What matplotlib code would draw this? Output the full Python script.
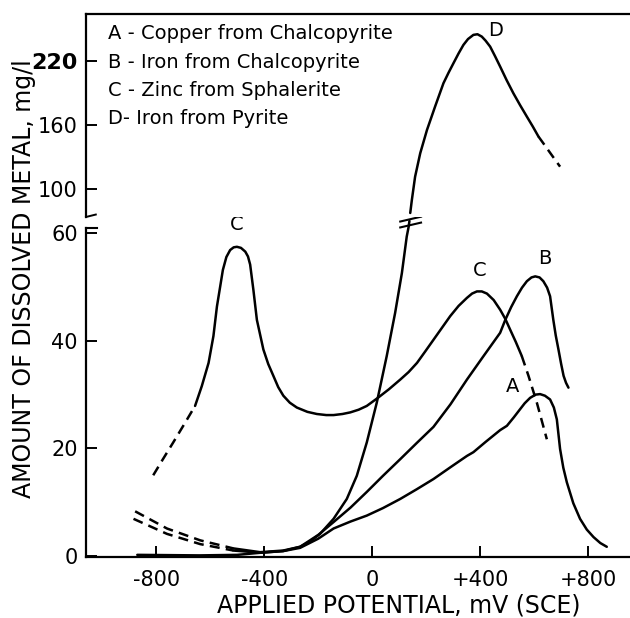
import matplotlib
matplotlib.use("Agg")
import matplotlib.pyplot as plt
from matplotlib.lines import Line2D

plt.rcParams['font.family'] = ['DejaVu Sans']

# --- data (mV vs SCE, mg/l) ---
# A - copper from chalcopyrite
a_dash_x = [-884, -760, -637, -514]
a_dash_y = [6.9, 4.1, 2.2, 1.0]
a_x = [-514, -415, -330, -267, -200, -143, -80, -20, 40, 104, 165, 227, 290, 351, 375, 420, 474, 499, 525, 548,
       565, 585, 605, 622, 640, 659, 673, 684, 696, 708, 721, 745, 770, 795, 820, 845, 869]
a_y = [1.0, 0.6, 0.9, 1.5, 3.2, 5.1, 6.4, 7.5, 8.9, 10.6, 12.4, 14.3, 16.5, 18.6, 19.3, 21.2, 23.4, 24.2, 25.8, 27.3,
       28.4, 29.4, 30.0, 30.1, 29.8, 29.1, 27.6, 25.4, 19.9, 16.4, 13.7, 9.8, 6.9, 4.9, 3.5, 2.4, 1.7]

# B - iron from chalcopyrite
b_dash_x = [-878, -760, -637, -514]
b_dash_y = [8.3, 5.1, 2.9, 1.4]
b_x = [-514, -415, -330, -267, -200, -143, -80, -20, 40, 104, 165, 227, 290, 351, 410, 474, 493, 515, 536, 555,
       573, 590, 604, 620, 634, 648, 659, 671, 680, 690, 700, 709, 718, 727]
b_y = [1.4, 0.7, 1.0, 1.7, 3.9, 6.3, 9.0, 11.9, 14.9, 18.0, 21.0, 24.0, 28.2, 32.8, 37.0, 41.5, 43.9, 46.3, 48.3, 49.9,
       51.1, 51.8, 52.0, 51.8, 51.1, 49.9, 48.3, 43.9, 41.0, 38.4, 35.7, 33.5, 32.2, 31.3]

# C - zinc from sphalerite
c_dash1_x = [-811, -775, -737, -695, -656]
c_dash1_y = [15.0, 18.0, 21.1, 24.6, 27.9]
c_x = [-656, -631, -606, -588, -575, -563, -553, -540, -526, -513, -501, -486, -470, -460, -452, -440, -427, -403,
       -385, -366, -348, -329, -305, -279, -240, -205, -170, -143, -110, -81, -50, -20, 21, 62, 104, 135, 166, 196,
       227, 258, 289, 320, 351, 370, 388, 406, 425, 450, 474, 493, 511, 532, 554]
c_y = [27.9, 31.6, 35.9, 40.9, 46.4, 50.1, 53.2, 55.6, 56.9, 57.4, 57.5, 57.3, 56.6, 55.7, 54.2, 49.5, 43.9, 38.4,
       35.7, 33.5, 31.4, 29.8, 28.5, 27.6, 26.8, 26.4, 26.2, 26.2, 26.4, 26.7, 27.2, 27.9, 29.4, 31.0, 32.8, 34.2, 35.9,
       38.0, 40.2, 42.4, 44.6, 46.5, 48.0, 48.8, 49.2, 49.2, 48.8, 47.6, 45.8, 44.1, 42.1, 39.8, 37.2]
c_dash2_x = [554, 579, 610, 647]
c_dash2_y = [37.2, 33.5, 28.5, 21.7]

# D - iron from pyrite (lower and upper part of broken axis)
d_lo_x = [-870, -640, -500, -411, -330, -267, -230, -193, -143, -94, -57, -20, 17, 54, 85, 110, 128, 135, 138]
d_lo_y = [0.2, 0.1, 0.2, 0.6, 0.9, 1.7, 2.7, 4.1, 6.9, 10.6, 14.9, 21.1, 28.5, 37.2, 45.2, 52.6, 59.4, 61.2, 62.3]
d_hi_x = [141, 147, 159, 178, 203, 233, 264, 283, 301, 320, 338, 355, 375, 390, 406, 420, 437, 455, 474, 498, 523,
          548, 573, 595, 616]
d_hi_y = [77.5, 89.7, 111.5, 133.5, 155.3, 177.2, 199.1, 209.0, 217.8, 227.0, 235.0, 240.5, 244.4, 245.0, 242.8,
          239.0, 233.4, 224.5, 214.7, 202.0, 189.7, 178.5, 167.8, 158.5, 149.1]
d_dash_x = [616, 634, 665, 696]
d_dash_y = [149.1, 142.8, 131.8, 120.9]

xticks = [-800, -400, 0, 400, 800]
xticklabels = ['-800', '-400', '0', '+400', '+800']
lo_ticks = [0, 20, 40, 60]
hi_ticks = [100, 160, 220]

legend_lines = ['A - Copper from Chalcopyrite', 'B - Iron from Chalcopyrite',
                'C - Zinc from Sphalerite', 'D- Iron from Pyrite']

fig = plt.figure(figsize=(6.3, 6.18), dpi=100)
ax_lo = fig.add_axes([0.1365, 0.0987, 0.8635, 0.5324])
ax_hi = fig.add_axes([0.1365, 0.6489, 0.8635, 0.3285])

lw = 1.8
dash = (4, 2.5)
style = dict(color='k', lw=lw, solid_joinstyle='round', solid_capstyle='round')
for ax in (ax_lo, ax_hi):
    ax.set_xlim(-1060, 955)
    for s in ax.spines.values():
        s.set_linewidth(1.6)
    ax.spines['right'].set_visible(False)
    ax.tick_params(direction='in', length=8, width=1.4, labelsize=15, pad=6)

ax_lo.set_ylim(-0.2, 61.0)
ax_hi.set_ylim(73.75, 264)
ax_lo.spines['top'].set_visible(False)
ax_hi.spines['bottom'].set_visible(False)

# lower part
ax_lo.plot(a_x, a_y, **style)
ax_lo.plot(a_dash_x, a_dash_y, '--', dashes=dash, **style)
ax_lo.plot(b_x, b_y, **style)
ax_lo.plot(b_dash_x, b_dash_y, '--', dashes=dash, **style)
ax_lo.plot(c_x, c_y, **style)
ax_lo.plot(c_dash1_x, c_dash1_y, '--', dashes=dash, **style)
ax_lo.plot(c_dash2_x, c_dash2_y, '--', dashes=dash, **style)
ax_lo.plot(d_lo_x, d_lo_y, clip_on=False, **style)

# upper part
ax_hi.plot(d_hi_x, d_hi_y, **style)
ax_hi.plot(d_dash_x, d_dash_y, '--', dashes=dash, **style)

# break marks on curve D
ax_lo.plot([104, 181], [62.2, 63.1], 'k-', lw=1.5, clip_on=False)
ax_lo.plot([104, 181], [61.1, 62.0], 'k-', lw=1.5, clip_on=False)

# break marks on the y spine
fig.add_artist(Line2D([0, 0.02], [1, 1], transform=ax_lo.transAxes, color='k', lw=1.5))
fig.add_artist(Line2D([0, 0.018], [0, 0.012], transform=ax_hi.transAxes, color='k', lw=1.4))

ax_lo.set_xticks(xticks)
ax_lo.set_xticklabels(xticklabels, fontsize=15)
ax_lo.tick_params(axis='x', pad=9)
ax_lo.set_yticks(lo_ticks)
ax_hi.set_xticks([])
ax_hi.set_yticks(hi_ticks)
ax_hi.set_yticklabels([str(t) for t in hi_ticks])
lab = ax_hi.get_yticklabels()[-1]
lab.set_fontweight('bold')
lab.set_fontsize(16)

# curve letters
ax_lo.text(-500, 59.8, 'C', fontsize=14, ha='center', va='bottom')
ax_lo.text(400, 51.3, 'C', fontsize=14, ha='center', va='bottom')
ax_lo.text(641, 53.5, 'B', fontsize=14, ha='center', va='bottom')
ax_lo.text(519, 29.8, 'A', fontsize=14, ha='center', va='bottom')
ax_hi.text(458, 240, 'D', fontsize=14, ha='center', va='bottom')

# legend text
for i, s in enumerate(legend_lines):
    ax_hi.text(0.040, [0.905, 0.761, 0.622, 0.483][i], s, transform=ax_hi.transAxes,
               fontsize=14, ha='left', va='center')

fig.text(24 / 630, 1 - 279 / 618, 'AMOUNT OF DISSOLVED METAL, mg/l', rotation=90,
         fontsize=17, ha='center', va='center')
fig.text(399 / 630, 1 - 606 / 618, 'APPLIED POTENTIAL, mV (SCE)', fontsize=17,
         ha='center', va='center')

fig.savefig('out.png', dpi=100)
